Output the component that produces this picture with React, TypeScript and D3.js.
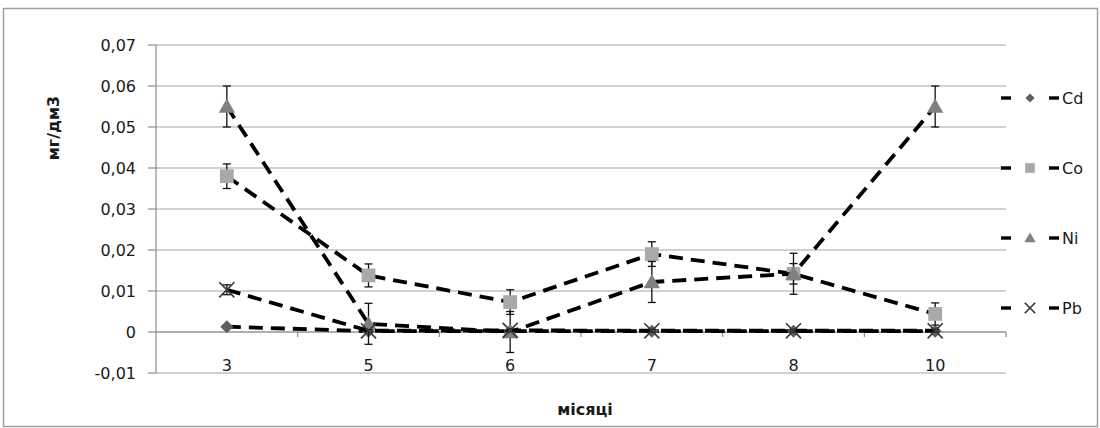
import React from "react";
import * as d3 from "d3";

const categories = ["3", "5", "6", "7", "8", "10"];
const seriesNames = ["Cd", "Co", "Ni", "Pb"];
const cdValues = [0.0013, 0.0002, 0.0002, 0.0002, 0.0002, 0.0002];
const cdErrors = [0.0002, 0.0002, 0.0002, 0.0002, 0.0002, 0.0002];
const coValues = [0.038, 0.0138, 0.0073, 0.019, 0.0142, 0.0044];
const coErrors = [0.003, 0.0028, 0.003, 0.003, 0.0025, 0.0027];
const niValues = [0.055, 0.002, 0.0, 0.0122, 0.0142, 0.055];
const niErrors = [0.005, 0.005, 0.005, 0.005, 0.005, 0.005];
const pbValues = [0.0103, 0.0003, 0.0004, 0.0003, 0.0003, 0.0003];
const pbErrors = [0.0012, 0.0003, 0.0003, 0.0003, 0.0003, 0.0003];
const yTicks = [-0.01, 0, 0.01, 0.02, 0.03, 0.04, 0.05, 0.06, 0.07];
const xTitle = "місяці";
const yTitle = "мг/дм3";

const W = 1100;
const H = 428;
const FONT = "'DejaVu Sans', Verdana, sans-serif";

type Shape = "diamond" | "square" | "triangle" | "x";
const seriesValues = [cdValues, coValues, niValues, pbValues];
const seriesErrors = [cdErrors, coErrors, niErrors, pbErrors];
const shapes: Shape[] = ["diamond", "square", "triangle", "x"];
const fills = ["#5e5e5e", "#a9a9a9", "#808080", "#3a3a3a"];

function markerPath(shape: Shape, big: boolean): string {
  const k = big ? 1 : 0.7;
  if (shape === "diamond") return d3.symbol().type(d3.symbolSquare).size(85 * k * k)()!;
  if (shape === "square") return d3.symbol().type(d3.symbolSquare).size(190 * k * k)()!;
  if (shape === "triangle") return d3.symbol().type(d3.symbolTriangle).size(115 * k * k)()!;
  return d3.symbol().type(d3.symbolX).size(150 * k * k)()!;
}

function Marker({ shape, x, y, fill, big }: { shape: Shape; x: number; y: number; fill: string; big: boolean }) {
  const d = markerPath(shape, big);
  if (shape === "x") {
    return <path d={d} transform={`translate(${x},${y})`} fill="none" stroke={fill} strokeWidth={1.7} />;
  }
  const rot = shape === "diamond" ? " rotate(45)" : "";
  const dy = shape === "triangle" ? (big ? 1.5 : 1) : 0;
  return <path d={d} transform={`translate(${x},${y + dy})${rot}`} fill={fill} stroke="none" />;
}

export default function App() {
  const x = d3.scaleBand<string>().domain(categories).range([156, 1006]);
  const y = d3.scaleLinear().domain([-0.01, 0.07]).range([373, 45]);
  const cx = (c: string) => (x(c) as number) + x.bandwidth() / 2;
  const fmt = (v: number) => (Math.abs(v) < 1e-9 ? "0" : d3.format(".2f")(v).replace(".", ",").replace("−", "-"));
  const line = d3
    .line<number>()
    .x((_, i) => cx(categories[i]))
    .y((v) => y(v));
  const x0 = x.range()[0];
  const x1 = x.range()[1];
  const boundaries = categories.map((c) => (x(c) as number) + x.bandwidth());

  return (
    <svg width={W} height={H} style={{ position: "absolute", left: 0, top: 0, background: "#fff" }}>
      <rect x={3.5} y={8.5} width={1094} height={418} fill="#fff" stroke="#a0a0a0" strokeWidth={1.5} />
      {yTicks.map((t) => (
        <line key={"g" + t} x1={x0} x2={x1} y1={y(t)} y2={y(t)} stroke="#a3a3a3" strokeWidth={1.2} />
      ))}
      <line x1={x0} x2={x0} y1={y(0.07)} y2={y(-0.01)} stroke="#8c8c8c" strokeWidth={1.2} />
      {yTicks.map((t) => (
        <g key={"t" + t}>
          <line x1={x0 - 8} x2={x0} y1={y(t)} y2={y(t)} stroke="#8c8c8c" strokeWidth={1.2} />
          <text x={136} y={y(t)} dy="0.36em" textAnchor="end" fontFamily={FONT} fontSize={16} fill="#1a1a1a">
            {fmt(t)}
          </text>
        </g>
      ))}
      <line x1={x0} x2={x1} y1={y(0)} y2={y(0)} stroke="#8c8c8c" strokeWidth={1.2} />
      {boundaries.map((b, i) => (
        <line key={"b" + i} x1={b} x2={b} y1={y(0)} y2={y(0) + 5} stroke="#8c8c8c" strokeWidth={1.2} />
      ))}
      {categories.map((c) => (
        <text key={"c" + c} x={cx(c)} y={365} dy="0.36em" textAnchor="middle" fontFamily={FONT} fontSize={16} fill="#1a1a1a">
          {c}
        </text>
      ))}
      {seriesNames.map((name, si) => {
        const vals = seriesValues[si];
        const errs = seriesErrors[si];
        return (
          <g key={name}>
            <path d={line(vals)!} fill="none" stroke="#000" strokeWidth={3.8} strokeDasharray="14,8" />
            {vals.map((v, i) => {
              const px = cx(categories[i]);
              const hi = y(v + errs[i]);
              const lo = y(v - errs[i]);
              return (
                <g key={"e" + i} stroke="#111" strokeWidth={1.3}>
                  <line x1={px} x2={px} y1={hi} y2={lo} />
                  <line x1={px - 4} x2={px + 4} y1={hi} y2={hi} />
                  <line x1={px - 4} x2={px + 4} y1={lo} y2={lo} />
                </g>
              );
            })}
            {vals.map((v, i) => (
              <Marker key={"m" + i} shape={shapes[si]} x={cx(categories[i])} y={y(v)} fill={fills[si]} big={true} />
            ))}
          </g>
        );
      })}
      {seriesNames.map((name, si) => {
        const ly = 98 + 70 * si;
        return (
          <g key={"l" + name}>
            <line x1={1001} x2={1011} y1={ly} y2={ly} stroke="#000" strokeWidth={3.4} />
            <line x1={1049} x2={1059} y1={ly} y2={ly} stroke="#000" strokeWidth={3.4} />
            <Marker shape={shapes[si]} x={1030} y={ly} fill={fills[si]} big={false} />
            <text x={1062} y={ly} dy="0.36em" fontFamily={FONT} fontSize={16} fill="#1a1a1a">
              {name}
            </text>
          </g>
        );
      })}
      <text x={585} y={409} dy="0.36em" textAnchor="middle" fontFamily={FONT} fontSize={16} fontWeight="bold" fill="#1a1a1a">
        {xTitle}
      </text>
      <text
        transform={`translate(53,128) rotate(-90)`}
        dy="0.36em"
        textAnchor="middle"
        fontFamily={FONT}
        fontSize={16}
        fontWeight="bold"
        fill="#1a1a1a"
      >
        {yTitle}
      </text>
    </svg>
  );
}
